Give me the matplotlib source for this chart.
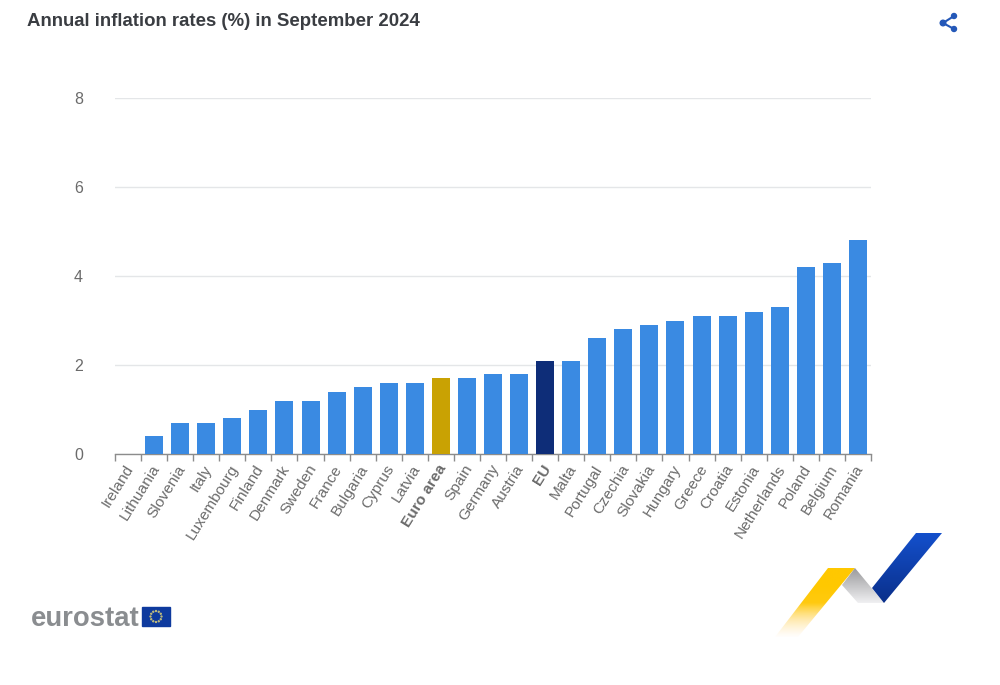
import matplotlib
matplotlib.use("Agg")
import matplotlib.pyplot as plt
import numpy as np
from matplotlib.patches import Polygon, Rectangle, Circle
from matplotlib.transforms import ScaledTranslation

plt.rcParams['font.family'] = ['Liberation Sans', 'DejaVu Sans']

countries = ['Ireland', 'Lithuania', 'Slovenia', 'Italy', 'Luxembourg', 'Finland', 'Denmark', 'Sweden',
             'France', 'Bulgaria', 'Cyprus', 'Latvia', 'Euro area', 'Spain', 'Germany', 'Austria', 'EU',
             'Malta', 'Portugal', 'Czechia', 'Slovakia', 'Hungary', 'Greece', 'Croatia', 'Estonia',
             'Netherlands', 'Poland', 'Belgium', 'Romania']
inflation = [0.0, 0.4, 0.7, 0.7, 0.8, 1.0, 1.2, 1.2, 1.4, 1.5, 1.6, 1.6, 1.7, 1.7, 1.8, 1.8, 2.1,
             2.1, 2.6, 2.8, 2.9, 3.0, 3.1, 3.1, 3.2, 3.3, 4.2, 4.3, 4.8]
y_ticks = [0, 2, 4, 6, 8]

W, H = 1000, 685
BLUE = '#3a8ae2'
GOLD = '#c9a203'
NAVY = '#0e2d78'
special = {'Euro area': GOLD, 'EU': NAVY}

fig = plt.figure(figsize=(W / 100, H / 100), dpi=100, facecolor='white')

# main chart, placed in pixel positions
ax = fig.add_axes([115 / W, 1 - 454 / H, 756 / W, 356 / H])
x = np.arange(len(countries))
colors = [special.get(c, BLUE) for c in countries]
ax.bar(x, inflation, width=0.69, color=colors, zorder=3)
ax.set_xlim(-0.5, len(countries) - 0.5)
ax.set_ylim(0, 8)

ax.set_yticks(y_ticks)
ax.grid(axis='y', color='#e4e6e8', linewidth=1, zorder=0)
ax.tick_params(axis='y', length=0, pad=23, labelsize=11.5, labelcolor='#6b6b6b')
for s in ['top', 'right', 'left']:
    ax.spines[s].set_visible(False)
ax.spines['bottom'].set_color('#8c8c8c')
ax.spines['bottom'].set_linewidth(1)

# ticks sit between the bars, labels under the bars
ax.set_xticks(np.arange(len(countries) + 1) - 0.5)
ax.set_xticklabels([])
ax.tick_params(axis='x', which='major', length=5, color='#8c8c8c', width=1)
ax.set_xticks(x, minor=True)
ax.set_xticklabels(countries, minor=True, rotation=58, ha='right', va='top', rotation_mode='anchor',
                   fontsize=11.1, color='#6b6b6b')
ax.tick_params(axis='x', which='minor', length=0, pad=6)
shift = ScaledTranslation(-3.5 / 100, 0, fig.dpi_scale_trans)
for lab in ax.get_xticklabels(minor=True):
    lab.set_transform(lab.get_transform() + shift)
    if lab.get_text() in special:
        lab.set_fontweight('bold')

# overlay for title, icon and logos, in image pixels
ov = fig.add_axes([0, 0, 1, 1], facecolor='none')
ov.axis('off')

fig.text(27 / W, 1 - 21.5 / H, 'Annual inflation rates (%) in September 2024', fontsize=13.4, fontweight='bold',
         color='#3a3d42', va='center', ha='left')

# share icon
share_col = '#2458b8'
hub = (943, 23)
for end in [(954, 16), (954, 29)]:
    ov.plot([hub[0], end[0]], [hub[1], end[1]], color=share_col, lw=1.5)
    ov.add_patch(Circle(end, 2.5, color=share_col))
ov.add_patch(Circle(hub, 2.8, color=share_col))

# eurostat logo
fig.text(31 / W, 1 - 619 / H, 'eurostat', fontsize=19.8, fontweight='bold', color='#8a8d90', va='center', ha='left')
ov.add_patch(Rectangle((142, 607), 28, 19, color='#0e3a9e'))
for a in np.linspace(0, 2 * np.pi, 12, endpoint=False):
    ov.add_patch(Circle((156 + 5.5 * np.cos(a), 616.5 + 5.5 * np.sin(a)), 0.45, color='#c9c27a'))


def ribbon(pts, stops, ext):
    # polygon filled with a vertical gradient through the given colour stops
    rgba = np.array([matplotlib.colors.to_rgba(c) for c in stops])
    t = np.linspace(0, 1, 128)
    pos = np.linspace(0, 1, len(stops))
    grad = np.stack([np.interp(t, pos, rgba[:, i]) for i in range(4)], axis=-1)[:, None, :]
    im = ov.imshow(grad, extent=ext, aspect='auto', zorder=2, interpolation='bilinear')
    im.set_clip_path(Polygon(pts, closed=True, transform=ov.transData))


ribbon([(828, 568), (855, 568), (798, 637), (775, 637)],
       ['#ffc800', '#ffc800', '#ffca10', (1, 0.87, 0.5, 0.6), (1, 0.9, 0.7, 0)], (770, 860, 638, 568))
ribbon([(855, 568), (884, 603), (858, 603), (842, 585)], ['#9a9a9c', '#f0f0f2'], (840, 886, 603, 568))
ribbon([(916, 533), (942, 533), (884, 603), (872, 588)], ['#1450cc', '#0a2f8a'], (870, 944, 603, 533))

ov.set_xlim(0, W)
ov.set_ylim(H, 0)

fig.savefig('out.png', dpi=100)
